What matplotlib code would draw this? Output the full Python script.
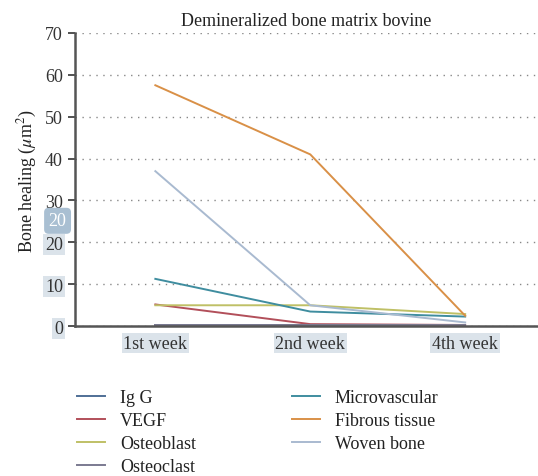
import numpy as np
import matplotlib
matplotlib.use("Agg")
import matplotlib.pyplot as plt

plt.rcParams['font.family'] = ['Liberation Serif', 'DejaVu Serif']
plt.rcParams['mathtext.fontset'] = 'stix'

weeks = ['1st week', '2nd week', '4th week']
igg = [0.3, 0.3, 0.3]
vegf = [5.2, 0.5, 0.3]
osteoblast = [5.0, 5.0, 2.9]
osteoclast = [0.2, 0.2, 0.2]
microvascular = [11.3, 3.5, 2.3]
fibrous = [57.5, 41.0, 2.5]
woven = [37.0, 5.0, 0.9]

series = [
    ('Ig G', igg, '#4f6f96'),
    ('VEGF', vegf, '#b24f5a'),
    ('Osteoblast', osteoblast, '#bfc066'),
    ('Osteoclast', osteoclast, '#7b7a90'),
    ('Microvascular', microvascular, '#3f8d9f'),
    ('Fibrous tissue', fibrous, '#d99047'),
    ('Woven bone', woven, '#a9bad0'),
]

fig = plt.figure(figsize=(5.38, 4.77), dpi=100)
ax = fig.add_axes([0.139, 0.314, 0.861, 0.615])

x = np.arange(len(weeks))
for name, vals, col in series:
    ax.plot(x, vals, color=col, lw=1.4, label=name)

ax.set_xlim(-0.52, 2.47)
ax.set_ylim(0, 70)
ax.set_yticks(range(0, 71, 10))
ax.set_xticks(x)
ax.set_xticklabels(weeks)
ax.tick_params(axis='x', length=0, labelsize=13, colors='#333333', pad=6)
ax.tick_params(axis='y', length=5, width=1.2, labelsize=13, colors='#333333', direction='out')
ax.grid(axis='y', ls=(0, (1, 4)), color='#888888', lw=1)
for s in ['top', 'right']:
    ax.spines[s].set_visible(False)
ax.spines['left'].set_color('#555555')
ax.spines['left'].set_linewidth(1.8)
ax.spines['bottom'].set_color('#555555')
ax.spines['bottom'].set_linewidth(1.8)

# light highlight behind some tick labels, like in the scan
hl = dict(boxstyle='square,pad=0.1', fc='#dbe3ea', ec='none')
for lab in ax.get_xticklabels():
    lab.set_bbox(hl)
for lab in ax.get_yticklabels()[:3]:
    lab.set_bbox(hl)

ax.set_title('Demineralized bone matrix bovine', fontsize=13, color='#222222', pad=6)
ax.set_ylabel(r'Bone healing ($\mu$m$^2$)', fontsize=13, color='#222222', labelpad=4)

fig.text(0.107, 0.535, '20', fontsize=13, color='white', ha='center', va='center',
         bbox=dict(boxstyle='round,pad=0.25', fc='#a9bfd2', ec='none'))

handles, labels = ax.get_legend_handles_labels()
leg = fig.legend(handles, labels,
                 ncol=2, loc='upper left', bbox_to_anchor=(0.112, 0.216),
                 frameon=False, fontsize=13, handlelength=1.6, handletextpad=0.8,
                 columnspacing=5.3, labelspacing=0.33)
for t in leg.get_texts():
    t.set_color('#222222')

fig.savefig('out.png', dpi=100)
